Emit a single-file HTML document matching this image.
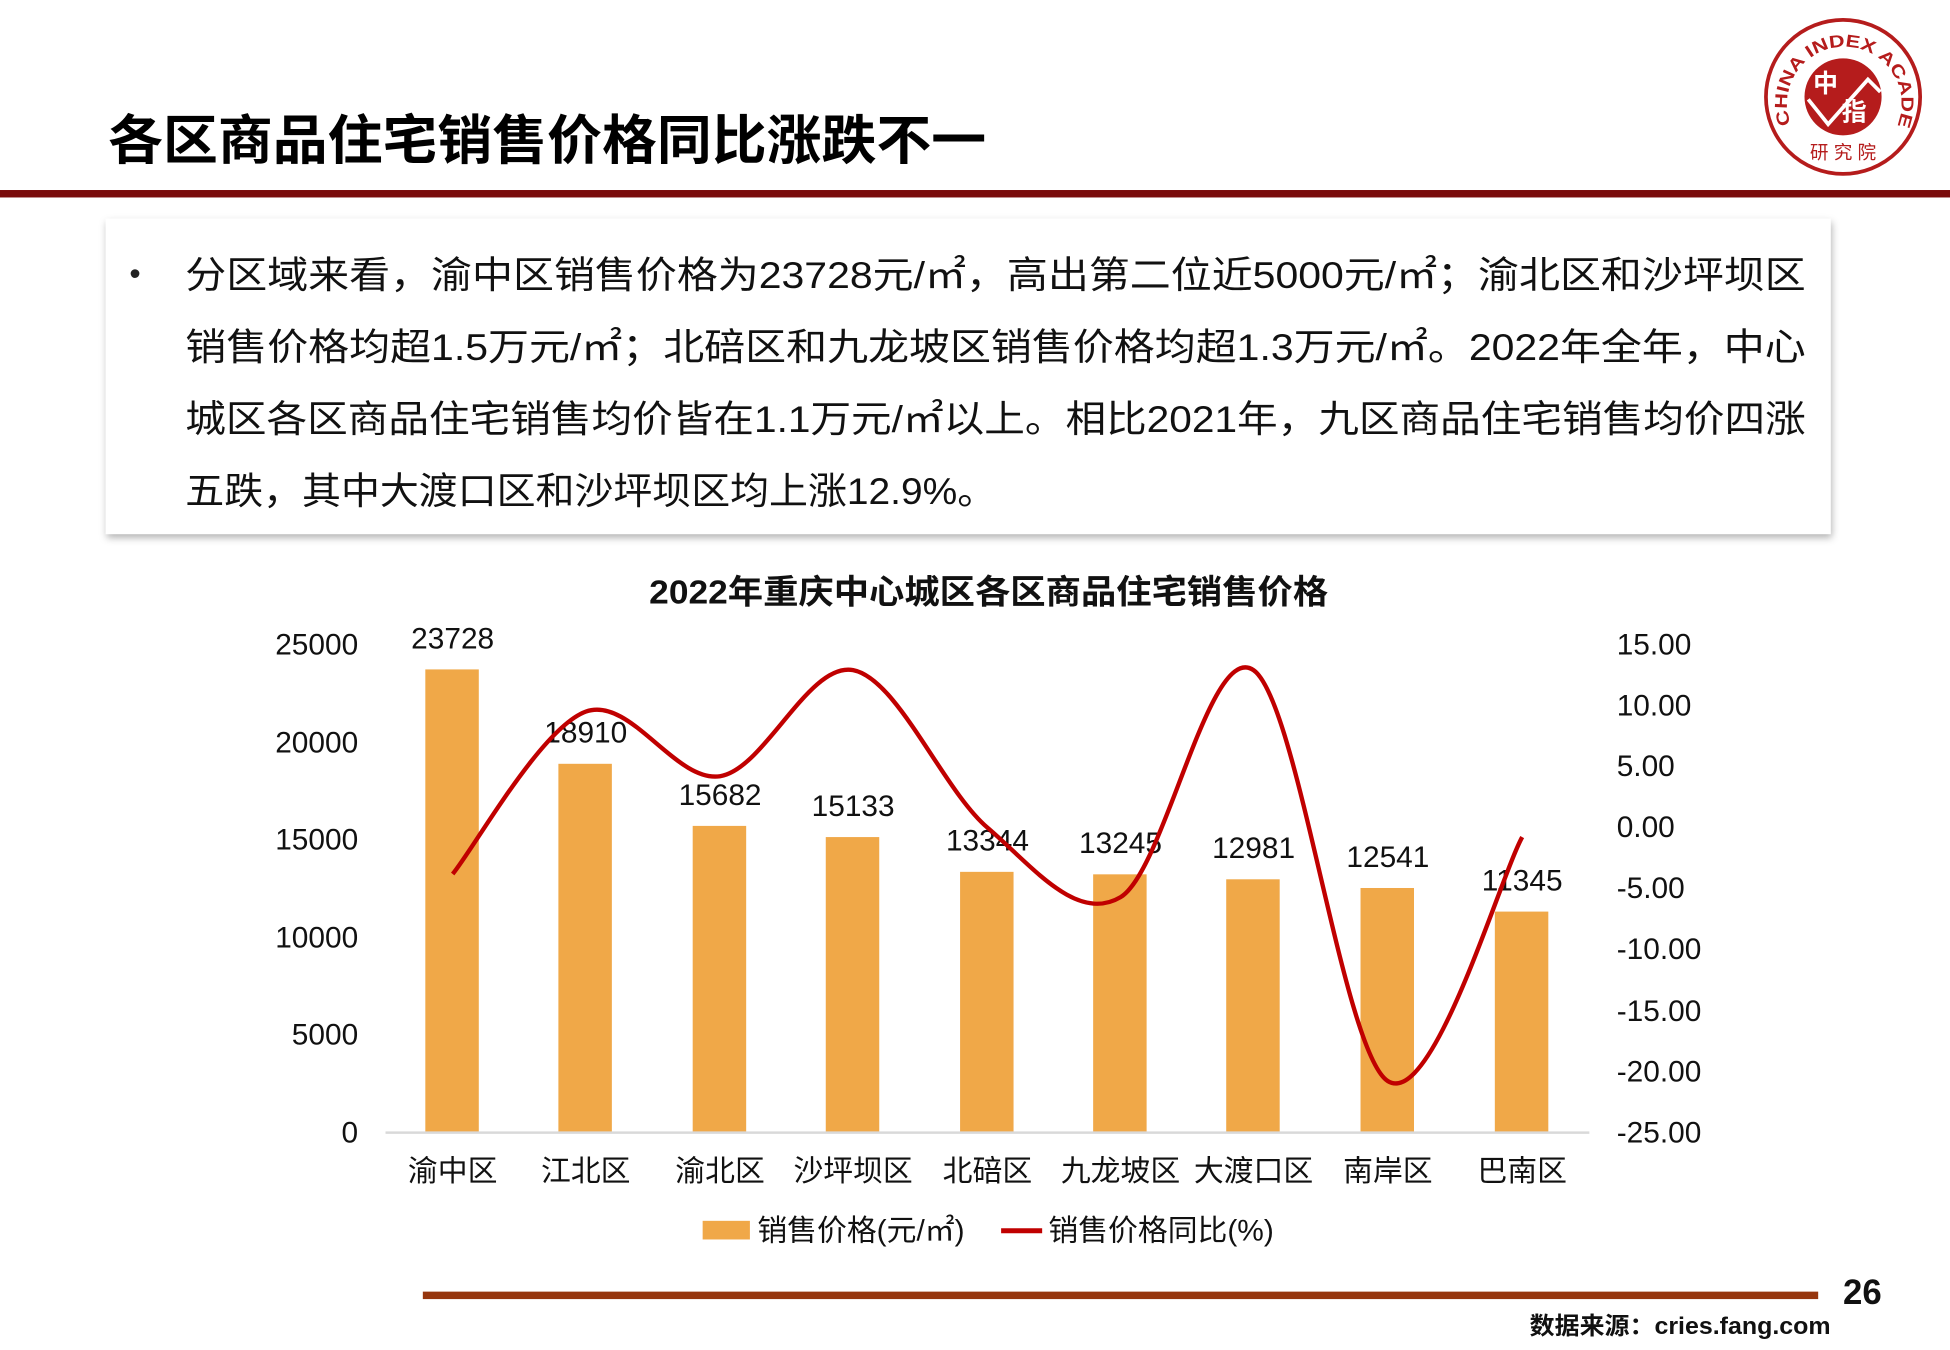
<!DOCTYPE html>
<html><head><meta charset="utf-8"><style>
html,body{margin:0;padding:0;background:#fff;}
svg{display:block;}
text{font-family:"Liberation Sans","Noto Sans CJK SC",sans-serif;}
</style></head><body>
<svg width="1950" height="1350" viewBox="0 0 1568 1087" preserveAspectRatio="none" xmlns="http://www.w3.org/2000/svg">
<defs>
<filter id="sh" x="-5%" y="-10%" width="110%" height="125%"><feDropShadow dx="1" dy="3" stdDeviation="3" flood-color="#000" flood-opacity="0.3"/></filter>
<path id="arc" d="M1440,100 A46,46 0 1 1 1526,100"/>
</defs>
<rect width="1568" height="1087" fill="#fff"/>
<text x="87" y="128" font-size="43" font-weight="bold" fill="#000" textLength="706" lengthAdjust="spacingAndGlyphs">各区商品住宅销售价格同比涨跌不一</text>
<rect x="0" y="153" width="1568" height="6" fill="#7a0c0c"/>
<!-- logo -->
<circle cx="1482" cy="78" r="62" fill="#fff" stroke="#b51c1c" stroke-width="3"/>
<circle cx="1482" cy="78" r="31" fill="#b51c1c"/>
<text font-size="14" fill="#b51c1c" font-family="Liberation Serif,serif" font-weight="bold"><textPath href="#arc" textLength="205" lengthAdjust="spacingAndGlyphs">CHINA INDEX ACADEMY</textPath></text>
<text x="1458" y="74" font-size="20" fill="#fff" font-weight="bold">中</text>
<text x="1481" y="97" font-size="20" fill="#fff" font-weight="bold">指</text>
<polyline points="1454,80 1470,100 1502,64 1512,74" fill="none" stroke="#fff" stroke-width="3"/>
<text x="1482" y="128" font-size="15" fill="#b51c1c" text-anchor="middle">研 究 院</text>
<!-- text box -->
<rect x="85" y="176" width="1387" height="254" fill="#fff" filter="url(#sh)"/>
<text x="104" y="229" font-size="26" fill="#222">•</text>
<g font-size="30" fill="#111">
<text x="149" y="232" textLength="1303" lengthAdjust="spacingAndGlyphs">分区域来看，渝中区销售价格为23728元/㎡，高出第二位近5000元/㎡；渝北区和沙坪坝区</text>
<text x="149" y="290" textLength="1303" lengthAdjust="spacingAndGlyphs">销售价格均超1.5万元/㎡；北碚区和九龙坡区销售价格均超1.3万元/㎡。2022年全年，中心</text>
<text x="149" y="348" textLength="1303" lengthAdjust="spacingAndGlyphs">城区各区商品住宅销售均价皆在1.1万元/㎡以上。相比2021年，九区商品住宅销售均价四涨</text>
<text x="149" y="406" textLength="652" lengthAdjust="spacingAndGlyphs">五跌，其中大渡口区和沙坪坝区均上涨12.9%。</text>
</g>
<!-- chart -->
<text x="522" y="486" font-size="27" font-weight="bold" fill="#111" textLength="546" lengthAdjust="spacingAndGlyphs">2022年重庆中心城区各区商品住宅销售价格</text>
<g font-size="24" fill="#111" text-anchor="end">
<text x="288" y="527">25000</text><text x="288" y="606">20000</text><text x="288" y="684">15000</text>
<text x="288" y="763">10000</text><text x="288" y="841">5000</text><text x="288" y="920">0</text>
</g>
<g font-size="24" fill="#111">
<text x="1300" y="527">15.00</text><text x="1300" y="576">10.00</text><text x="1300" y="625">5.00</text>
<text x="1300" y="674">0.00</text><text x="1300" y="723">-5.00</text><text x="1300" y="772">-10.00</text>
<text x="1300" y="822">-15.00</text><text x="1300" y="871">-20.00</text><text x="1300" y="920">-25.00</text>
</g>
<g fill="#f0a848">
<rect x="342" y="539" width="43" height="373"/>
<rect x="449" y="615" width="43" height="297"/>
<rect x="557" y="665" width="43" height="247"/>
<rect x="664" y="674" width="43" height="238"/>
<rect x="772" y="702" width="43" height="210"/>
<rect x="879" y="704" width="43" height="208"/>
<rect x="986" y="708" width="43" height="204"/>
<rect x="1094" y="715" width="43" height="197"/>
<rect x="1202" y="734" width="43" height="178"/>
</g>
<line x1="310" y1="912" x2="1278" y2="912" stroke="#d9d9d9" stroke-width="2"/>
<g font-size="24" fill="#111" text-anchor="middle">
<text x="364" y="522">23728</text><text x="471" y="598">18910</text><text x="579" y="648">15682</text>
<text x="686" y="657">15133</text><text x="794" y="685">13344</text><text x="901" y="687">13245</text>
<text x="1008" y="691">12981</text><text x="1116" y="698">12541</text><text x="1224" y="717">11345</text>
</g>
<path d="M364,703.7 C381.8,681.9 435.2,586.1 471,573 C506.8,559.9 543.2,630.6 579,625 C614.8,619.4 650.2,532.7 686,539.6 C721.8,546.5 758.2,635.9 794,666.4 C829.8,696.9 865.3,743.5 901,722.4 C936.7,701.3 972.2,514.9 1008,539.6 C1043.8,564.3 1080,848.1 1116,870.5 C1152,892.9 1206,706.8 1224,674" fill="none" stroke="#c00000" stroke-width="3.5"/>
<g font-size="24" fill="#111" text-anchor="middle">
<text x="364" y="951">渝中区</text><text x="471" y="951">江北区</text><text x="579" y="951">渝北区</text>
<text x="686" y="951">沙坪坝区</text><text x="794" y="951">北碚区</text><text x="901" y="951">九龙坡区</text>
<text x="1008" y="951">大渡口区</text><text x="1116" y="951">南岸区</text><text x="1224" y="951">巴南区</text>
</g>
<rect x="565" y="983" width="38" height="15" fill="#f0a848"/>
<text x="609" y="999" font-size="24" fill="#111">销售价格(元/㎡)</text>
<line x1="805" y1="991" x2="838" y2="991" stroke="#c00000" stroke-width="4"/>
<text x="843" y="999" font-size="24" fill="#111">销售价格同比(%)</text>
<!-- footer -->
<rect x="340" y="1040" width="1122" height="6" fill="#96360e"/>
<text x="1482" y="1050" font-size="28" font-weight="bold" fill="#111">26</text>
<text x="1230" y="1074" font-size="19" font-weight="bold" fill="#111" textLength="242" lengthAdjust="spacingAndGlyphs">数据来源：cries.fang.com</text>
</svg>
</body></html>
